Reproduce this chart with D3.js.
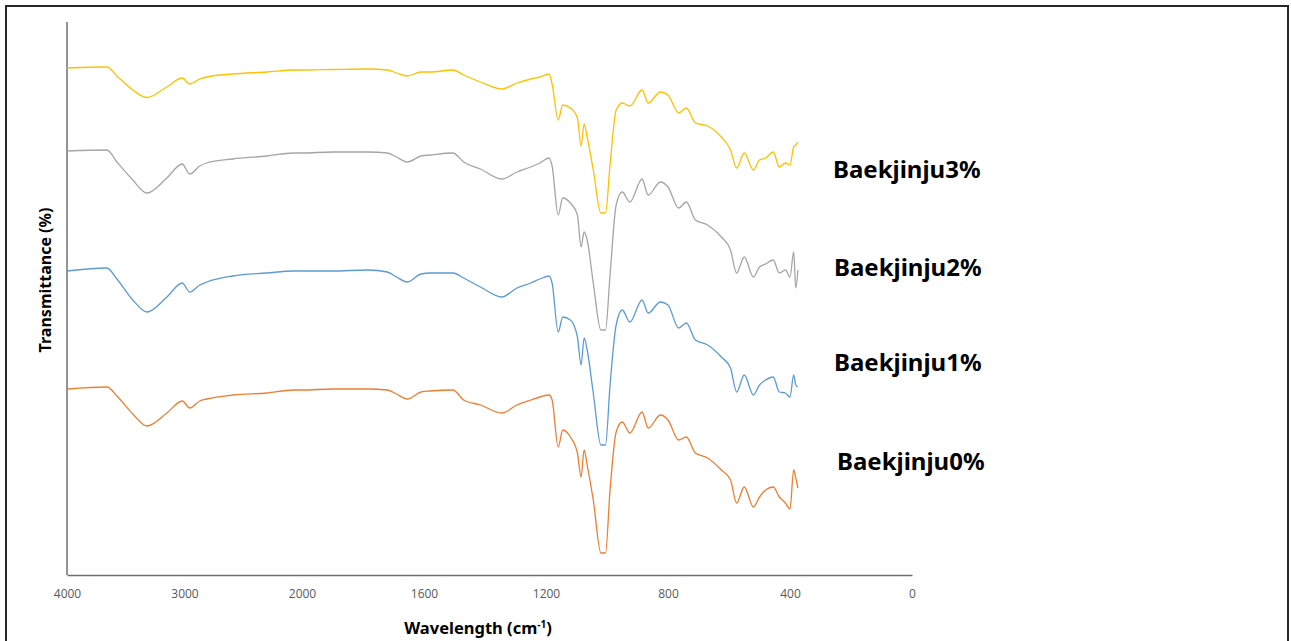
<!DOCTYPE html>
<html>
<head>
<meta charset="utf-8">
<script src="https://cdn.jsdelivr.net/npm/d3@7"></script>
<style>
  html, body { margin: 0; padding: 0; background: #fff; }
  svg { display: block; }
</style>
</head>
<body>
<svg id="chart" width="1291" height="641"></svg>
<script>
// FTIR spectra of samples with 0-3% Baekjinju (offset for display)
const wavenumbers = [4000, 3660, 3575, 3440, 3320, 3150, 3020, 2955, 2870, 2810,
  2590, 2300, 2075, 2000, 1900, 1785, 1720, 1690, 1655, 1610,
  1580, 1505, 1470, 1415, 1345, 1295, 1250, 1220, 1190, 1180,
  1160, 1145, 1120, 1097, 1085, 1075, 1065, 1045, 1020, 1005,
  990, 970, 950, 925, 885, 865, 825, 800, 765, 740,
  710, 670, 625, 595, 575, 550, 520, 500, 480, 455,
  435, 415, 400, 388, 381, 374];

const baekjinju3 = [101.4, 101.6, 99.8, 97.0, 95.5, 97.6, 99.4, 98.2, 99.2, 99.6,
  100.2, 100.6, 101.0, 101.0, 101.1, 101.2, 101.0, 100.4, 99.8, 100.6,
  100.6, 101.0, 100.0, 98.6, 97.2, 98.4, 99.2, 99.6, 100.2, 98.2,
  91.0, 94.0, 93.4, 91.4, 85.8, 90.2, 87.6, 81.0, 72.4, 72.4,
  82.0, 93.0, 94.4, 93.8, 97.0, 94.4, 96.6, 96.0, 92.4, 93.4,
  90.4, 89.8, 87.6, 85.0, 81.4, 84.4, 81.0, 83.0, 83.4, 84.6,
  81.6, 82.4, 82.0, 85.6, 86.0, 86.6];

const baekjinju2 = [84.8, 85.0, 82.6, 79.0, 76.4, 79.4, 82.2, 80.2, 81.8, 82.4,
  83.2, 83.8, 84.4, 84.4, 84.6, 84.6, 84.4, 83.6, 82.6, 83.8,
  84.0, 84.4, 82.6, 81.2, 79.2, 80.6, 81.6, 82.4, 83.4, 81.8,
  72.0, 75.4, 74.4, 72.0, 65.6, 68.6, 67.0, 58.4, 49.0, 49.0,
  60.0, 74.0, 76.6, 74.6, 79.2, 76.0, 78.6, 77.6, 73.4, 74.6,
  71.0, 70.0, 67.6, 65.0, 60.4, 63.6, 59.6, 61.6, 62.2, 63.0,
  60.4, 61.0, 59.6, 64.6, 57.4, 61.0];

const baekjinju1 = [60.8, 61.4, 59.2, 55.0, 52.6, 55.6, 58.4, 56.6, 58.0, 58.6,
  59.8, 60.4, 60.8, 60.8, 60.8, 61.0, 60.6, 59.6, 58.6, 60.2,
  60.4, 60.4, 59.4, 57.6, 55.6, 57.4, 58.4, 59.2, 59.8, 58.4,
  48.6, 51.6, 51.0, 47.6, 42.0, 47.4, 45.0, 36.4, 26.0, 26.0,
  38.0, 50.0, 53.0, 50.6, 55.0, 52.4, 54.6, 54.0, 49.4, 50.4,
  47.0, 46.0, 43.6, 41.4, 36.6, 40.0, 36.0, 38.0, 39.0, 39.6,
  36.6, 36.4, 35.6, 40.0, 38.0, 37.6];

const baekjinju0 = [37.2, 37.6, 35.8, 32.2, 29.8, 32.4, 34.8, 33.4, 34.8, 35.2,
  36.0, 36.4, 37.0, 37.0, 37.2, 37.2, 37.0, 36.2, 35.2, 36.6,
  36.8, 37.0, 35.0, 34.0, 32.4, 34.0, 35.0, 35.6, 36.0, 35.0,
  25.6, 29.0, 27.6, 24.4, 19.6, 25.0, 22.0, 15.0, 4.4, 4.4,
  17.0, 28.6, 30.6, 28.4, 32.6, 29.4, 32.0, 31.0, 27.0, 27.6,
  24.4, 23.4, 21.0, 19.0, 14.4, 17.6, 13.6, 15.6, 17.0, 17.6,
  15.6, 14.4, 13.2, 21.0, 19.4, 17.4];

const seriesNames = ["Baekjinju3%", "Baekjinju2%", "Baekjinju1%", "Baekjinju0%"];
const seriesValues = [baekjinju3, baekjinju2, baekjinju1, baekjinju0];
const seriesColors = ["#FFC000", "#A5A5A5", "#5B9BD5", "#ED7D31"];
const xTicks = [4000, 3000, 2000, 1600, 1200, 800, 400, 0];

const svg = d3.select("#chart");

// outer frame
svg.append("rect")
  .attr("x", 6).attr("y", 6)
  .attr("width", 1282).attr("height", 660)
  .attr("fill", "none")
  .attr("stroke", "#262626")
  .attr("stroke-width", 2);

// wavenumber axis with a change of scale at 2000 cm-1
const x = d3.scaleLinear()
  .domain([4000, 2000, 0])
  .range([67, 302, 912]);

const y = d3.scaleLinear()
  .domain([0, 110.6])
  .range([575, 22]);

// y axis line (no ticks)
svg.append("line")
  .attr("x1", x(4000)).attr("x2", x(4000))
  .attr("y1", y.range()[1]).attr("y2", y.range()[0])
  .attr("stroke", "#6f6f6f")
  .attr("stroke-width", 1.5);

const xAxis = svg.append("g")
  .attr("transform", `translate(0,${y(0)})`)
  .call(d3.axisBottom(x).tickValues(xTicks).tickSize(0).tickPadding(14)
    .tickFormat(d3.format("d")));
xAxis.select(".domain").attr("stroke", "#6f6f6f").attr("stroke-width", 1.5);
xAxis.selectAll("text")
  .attr("fill", "#595959")
  .style("font-family", "'Open Sans', 'Noto Sans', sans-serif")
  .style("font-size", "12px");

// spectra
const line = d3.line()
  .x((d, i) => x(wavenumbers[i]))
  .y(d => y(d))
  .curve(d3.curveMonotoneX);

svg.append("g")
  .selectAll("path")
  .data(seriesValues)
  .join("path")
  .attr("d", d => line(d))
  .attr("fill", "none")
  .attr("stroke", (d, i) => seriesColors[i])
  .attr("stroke-width", 1.3)
  .attr("stroke-linejoin", "round");

// series labels
const labelPos = [[833, 178], [834, 276], [834, 371], [837, 470]];
svg.append("g")
  .selectAll("text")
  .data(seriesNames)
  .join("text")
  .attr("x", (d, i) => labelPos[i][0])
  .attr("y", (d, i) => labelPos[i][1])
  .attr("fill", "#000")
  .style("font-family", "'Noto Sans', 'Open Sans', sans-serif")
  .style("font-weight", "bold")
  .style("font-size", "24px")
  .text(d => d);

// axis titles
svg.append("text")
  .attr("transform", "translate(51,280) rotate(-90)")
  .attr("text-anchor", "middle")
  .attr("fill", "#000")
  .style("font-family", "'Noto Sans', 'Open Sans', sans-serif")
  .style("font-weight", "bold")
  .style("font-size", "16px")
  .text("Transmittance (%)");

const xTitle = svg.append("text")
  .attr("x", 478).attr("y", 634)
  .attr("text-anchor", "middle")
  .attr("fill", "#000")
  .style("font-family", "'Noto Sans', 'Open Sans', sans-serif")
  .style("font-weight", "bold")
  .style("font-size", "16.5px");
xTitle.append("tspan").text("Wavelength (cm");
xTitle.append("tspan").attr("dy", -6).style("font-size", "10px").text("-1");
xTitle.append("tspan").attr("dy", 6).text(")");
</script>
</body>
</html>
